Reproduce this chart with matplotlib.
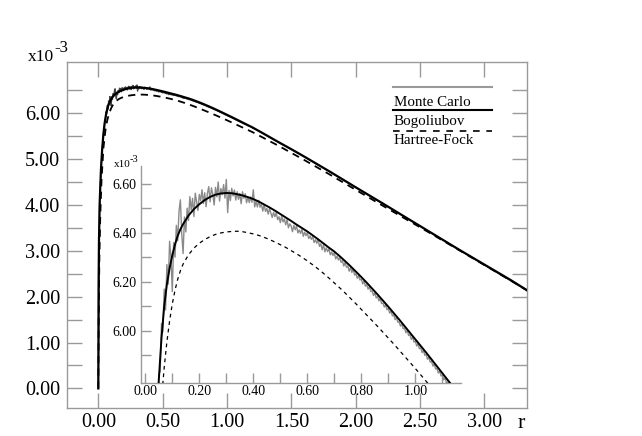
import numpy as np
import matplotlib
matplotlib.use("Agg")
import matplotlib.pyplot as plt
from matplotlib.lines import Line2D

plt.rcParams['font.family'] = ['Liberation Serif', 'DejaVu Serif']

# ---------------- data (values in units of 1e-3) ----------------
R_BOG = [0.0, 0.002, 0.005, 0.01, 0.02, 0.03, 0.04,
         0.05, 0.06, 0.07, 0.08, 0.09, 0.10, 0.11, 0.12, 0.13, 0.14,
         0.16, 0.18, 0.20, 0.22, 0.24, 0.26, 0.28, 0.30, 0.32, 0.34,
         0.36, 0.38, 0.40, 0.42, 0.44, 0.46, 0.48, 0.50, 0.52, 0.54,
         0.56, 0.58, 0.60, 0.62, 0.64, 0.66, 0.68, 0.70, 0.72, 0.74,
         0.76, 0.78, 0.80, 0.82, 0.84, 0.86, 0.88, 0.90, 0.92, 0.94,
         0.96, 0.98, 1.00, 1.02, 1.04, 1.06, 1.08, 1.10, 1.12, 1.14,
         1.16, 1.20, 1.30, 1.40, 1.50, 1.60, 1.70, 1.80, 1.90, 2.00,
         2.20, 2.40, 2.60, 2.80, 3.00, 3.20, 3.40]
BOG = [0.0, 2.2, 3.2, 4.0, 4.75, 5.22, 5.56,
       5.80, 5.97, 6.10, 6.19, 6.255, 6.308, 6.352, 6.387, 6.414, 6.435,
       6.470, 6.496, 6.516, 6.533, 6.546, 6.555, 6.560, 6.562, 6.561, 6.557,
       6.552, 6.545, 6.537, 6.527, 6.515, 6.503, 6.490, 6.476, 6.462, 6.448,
       6.433, 6.419, 6.405, 6.389, 6.373, 6.356, 6.339, 6.323, 6.304, 6.284,
       6.263, 6.241, 6.219, 6.196, 6.172, 6.148, 6.123, 6.098, 6.072, 6.046,
       6.019, 5.992, 5.965, 5.938, 5.911, 5.883, 5.855, 5.827, 5.799, 5.771,
       5.743, 5.687, 5.53, 5.37, 5.215, 5.055, 4.89, 4.725, 4.555, 4.385,
       4.05, 3.71, 3.37, 3.03, 2.70, 2.37, 2.02]

R_HF = [0.0, 0.003, 0.008, 0.015, 0.025, 0.04, 0.055, 0.065,
        0.07, 0.08, 0.09, 0.10, 0.11, 0.12, 0.13, 0.14,
        0.16, 0.18, 0.20, 0.22, 0.24, 0.26, 0.28, 0.30, 0.32, 0.34,
        0.36, 0.38, 0.40, 0.42, 0.44, 0.46, 0.48, 0.50, 0.52, 0.54,
        0.56, 0.58, 0.60, 0.62, 0.64, 0.66, 0.68, 0.70, 0.72, 0.74,
        0.76, 0.78, 0.80, 0.82, 0.84, 0.86, 0.88, 0.90, 0.92, 0.94,
        0.96, 0.98, 1.00, 1.02, 1.04, 1.06, 1.08, 1.10,
        1.20, 1.40, 1.60, 1.80, 2.00, 2.20, 2.40, 2.60, 2.80, 3.00, 3.20, 3.40]
HF = [0.0, 1.5, 2.8, 3.75, 4.55, 5.25, 5.62, 5.785,
      5.85, 5.955, 6.04, 6.11, 6.165, 6.21, 6.245, 6.272,
      6.310, 6.337, 6.357, 6.372, 6.384, 6.393, 6.399, 6.403, 6.405, 6.406,
      6.404, 6.400, 6.395, 6.389, 6.381, 6.372, 6.362, 6.351, 6.340, 6.327,
      6.314, 6.300, 6.285, 6.269, 6.252, 6.234, 6.215, 6.195, 6.175, 6.154,
      6.132, 6.110, 6.087, 6.064, 6.041, 6.018, 5.994, 5.970, 5.946, 5.921,
      5.896, 5.871, 5.846, 5.820, 5.794, 5.768, 5.742, 5.716,
      5.585, 5.29, 4.98, 4.66, 4.33, 4.00, 3.675, 3.35, 3.02, 2.69, 2.36, 2.02]

# Monte Carlo: dense samples every 0.005 starting at r = 0.045
MC_START = 0.045
MC_STEP = 0.005
MC = [5.65, 5.82, 5.835, 6.03, 5.995, 6.17, 6.085, 6.27, 6.19, 6.365,
      6.30, 6.16, 6.36, 6.30, 6.43, 6.367, 6.49, 6.534, 6.395, 6.315,
      6.464, 6.403, 6.50, 6.45, 6.547, 6.493, 6.54, 6.466, 6.561, 6.526,
      6.491, 6.556, 6.53, 6.575, 6.519, 6.563, 6.506, 6.56, 6.588, 6.526,
      6.583, 6.556, 6.513, 6.585, 6.546, 6.607, 6.529, 6.58, 6.555, 6.596,
      6.541, 6.617, 6.482, 6.572, 6.531, 6.581, 6.55, 6.574, 6.533, 6.567,
      6.536, 6.56, 6.518, 6.567, 6.54, 6.559, 6.522, 6.545, 6.523, 6.546,
      6.524, 6.575, 6.505, 6.527, 6.505, 6.532, 6.504, 6.516, 6.488, 6.515,
      6.487, 6.499, 6.476, 6.498, 6.48, 6.462, 6.483, 6.465, 6.482, 6.453,
      6.465, 6.441, 6.468, 6.444, 6.456, 6.432, 6.453, 6.42, 6.436, 6.428,
      6.404, 6.43, 6.412, 6.428, 6.399, 6.411, 6.397, 6.414, 6.385, 6.402,
      6.388, 6.40, 6.376, 6.387, 6.373, 6.384, 6.36, 6.371, 6.357, 6.373,
      6.344, 6.355, 6.33, 6.351, 6.322, 6.338, 6.323, 6.334, 6.31, 6.321,
      6.307, 6.318, 6.293, 6.304, 6.289, 6.298, 6.279, 6.286, 6.264, 6.279,
      6.259, 6.264, 6.243, 6.258, 6.238, 6.252, 6.227, 6.233, 6.214, 6.225,
      6.207, 6.211, 6.191, 6.203, 6.182, 6.188, 6.17, 6.179, 6.16, 6.162,
      6.144, 6.155, 6.134, 6.14, 6.122, 6.131, 6.111, 6.113, 6.097, 6.106,
      6.086, 6.09, 6.072, 6.08, 6.061, 6.064, 6.046, 6.054, 6.035, 6.036,
      6.019, 6.028, 6.008, 6.011, 5.992, 6.001, 5.981, 5.984, 5.965, 5.974,
      5.954, 5.957, 5.938, 5.947, 5.927, 5.93, 5.911, 5.92, 5.90, 5.903,
      5.884, 5.892, 5.872, 5.875, 5.856, 5.864, 5.844, 5.847, 5.828, 5.836,
      5.816, 5.819, 5.80, 5.808, 5.788, 5.791, 5.772, 5.78, 5.76, 5.763]
MC_HEAD_R = [0.0, 0.01, 0.02, 0.03, 0.04]
MC_HEAD = [0.0, 3.95, 4.72, 5.2, 5.55]
MC_TAIL_R = [1.16, 1.18, 1.20, 1.25, 1.30, 1.40, 1.50, 1.60, 1.80, 2.00, 2.50, 3.00, 3.40]
MC_TAIL = [5.73, 5.715, 5.675, 5.61, 5.525, 5.365, 5.21, 5.05, 4.72, 4.38, 3.54, 2.69, 2.02]

XTICKS = [0.0, 0.5, 1.0, 1.5, 2.0, 2.5, 3.0]
XTICK_LABELS = ['0.00', '0.50', '1.00', '1.50', '2.00', '2.50', '3.00']
YTICKS = [0, 1, 2, 3, 4, 5, 6]
YTICK_LABELS = ['0.00', '1.00', '2.00', '3.00', '4.00', '5.00', '6.00']
YMINOR = [0.5, 1.5, 2.5, 3.5, 4.5, 5.5, 6.5]

IN_XTICKS = [0.0, 0.2, 0.4, 0.6, 0.8, 1.0]
IN_XTICK_LABELS = ['0.00', '0.20', '0.40', '0.60', '0.80', '1.00']
IN_XMINOR = [0.1, 0.3, 0.5, 0.7, 0.9, 1.1]
IN_YTICKS = [6.0, 6.2, 6.4, 6.6]
IN_YTICK_LABELS = ['6.00', '6.20', '6.40', '6.60']
IN_YMINOR = [5.9, 6.1, 6.3, 6.5]

LEGEND_LABELS = ['Monte Carlo', 'Bogoliubov', 'Hartree-Fock']

# ---------------- figure ----------------
W, H = 642, 436
fig = plt.figure(figsize=(W / 100, H / 100), dpi=100)


def fx(px):
    return px / W


def fy(py):
    return 1 - py / H


GRAY = '#9a9a9a'

mc_r = np.array(MC_HEAD_R + list(MC_START + MC_STEP * np.arange(len(MC))) + MC_TAIL_R)
mc_v = np.array(MC_HEAD + MC + MC_TAIL)

# main axes
ax = fig.add_axes([fx(67.3), fy(407.7), fx(526.5) - fx(67.3), fy(62.3) - fy(407.7)])
ax.plot(mc_r, mc_v, color='#444444', lw=0.9, zorder=2)
ax.plot(R_HF, HF, color='black', lw=1.3, ls=(0, (4, 3)), zorder=3)
ax.plot(R_BOG, BOG, color='black', lw=1.6, zorder=4)
ax.set_xlim(-0.241, 3.327)
ax.set_ylim(-0.42, 7.11)
ax.set_xticks(XTICKS)
ax.set_xticklabels(XTICK_LABELS)
ax.set_yticks(YTICKS)
ax.set_yticklabels(YTICK_LABELS)
ax.set_yticks(YMINOR, minor=True)
for s in ax.spines.values():
    s.set_color(GRAY)
    s.set_linewidth(1.0)
ax.tick_params(which='both', direction='in', length=11, width=1.0, color=GRAY,
               top=True, right=True, labelsize=14.5)
ax.tick_params(axis='x', pad=4)
ax.tick_params(axis='y', pad=5)
t0 = ax.yaxis.get_major_ticks()[0]
t0.tick1line.set_color('#333333')
t0.tick2line.set_color('#333333')

# inset axes
ax2 = fig.add_axes([fx(140.7), fy(382.5), fx(461) - fx(140.7), fy(166) - fy(382.5)])
ax2.set_facecolor('none')
ax2.plot(mc_r, mc_v, color='#8a8a8a', lw=1.0, zorder=2)
ax2.plot(R_HF, HF, color='black', lw=0.9, ls=(0, (3, 3)), zorder=3)
ax2.plot(R_BOG, BOG, color='black', lw=1.4, zorder=4)
ax2.set_xlim(-0.017, 1.169)
ax2.set_ylim(5.789, 6.672)
ax2.set_xticks(IN_XTICKS)
ax2.set_xticklabels(IN_XTICK_LABELS)
ax2.set_xticks(IN_XMINOR, minor=True)
ax2.set_yticks(IN_YTICKS)
ax2.set_yticklabels(IN_YTICK_LABELS)
ax2.set_yticks(IN_YMINOR, minor=True)
ax2.spines['top'].set_visible(False)
ax2.spines['right'].set_visible(False)
for k in ('left', 'bottom'):
    ax2.spines[k].set_color(GRAY)
    ax2.spines[k].set_linewidth(1.0)
ax2.tick_params(which='both', direction='in', length=7, width=1.0, color=GRAY,
                labelsize=10)
ax2.tick_params(axis='x', pad=2)
ax2.tick_params(axis='y', pad=3)

# axis multiplier labels
fig.text(fx(28), fy(61), 'x10', fontsize=12.5, ha='left', va='baseline')
fig.text(fx(54.5), fy(52), '-3', fontsize=12, ha='left', va='baseline')
fig.text(fx(114), fy(167), 'x10', fontsize=8, ha='left', va='baseline')
fig.text(fx(130), fy(162), '-3', fontsize=7.5, ha='left', va='baseline')
fig.text(fx(521), fy(428), 'r', fontsize=16, ha='center', va='baseline')

# legend (line above each label)
leg_y = [87.3, 110.0, 130.7]
leg_base = [106, 124.5, 144.5]
styles = [dict(color=GRAY, lw=1.5), dict(color='black', lw=1.5),
          dict(color='black', lw=1.2, ls=(0, (4, 4)))]
for yl, yb, lab, st in zip(leg_y, leg_base, LEGEND_LABELS, styles):
    fig.add_artist(Line2D([fx(393), fx(492)], [fy(yl), fy(yl)],
                          transform=fig.transFigure, **st))
    fig.text(fx(394), fy(yb), lab, fontsize=10.8, ha='left', va='baseline')

fig.savefig('out.png', dpi=100)
